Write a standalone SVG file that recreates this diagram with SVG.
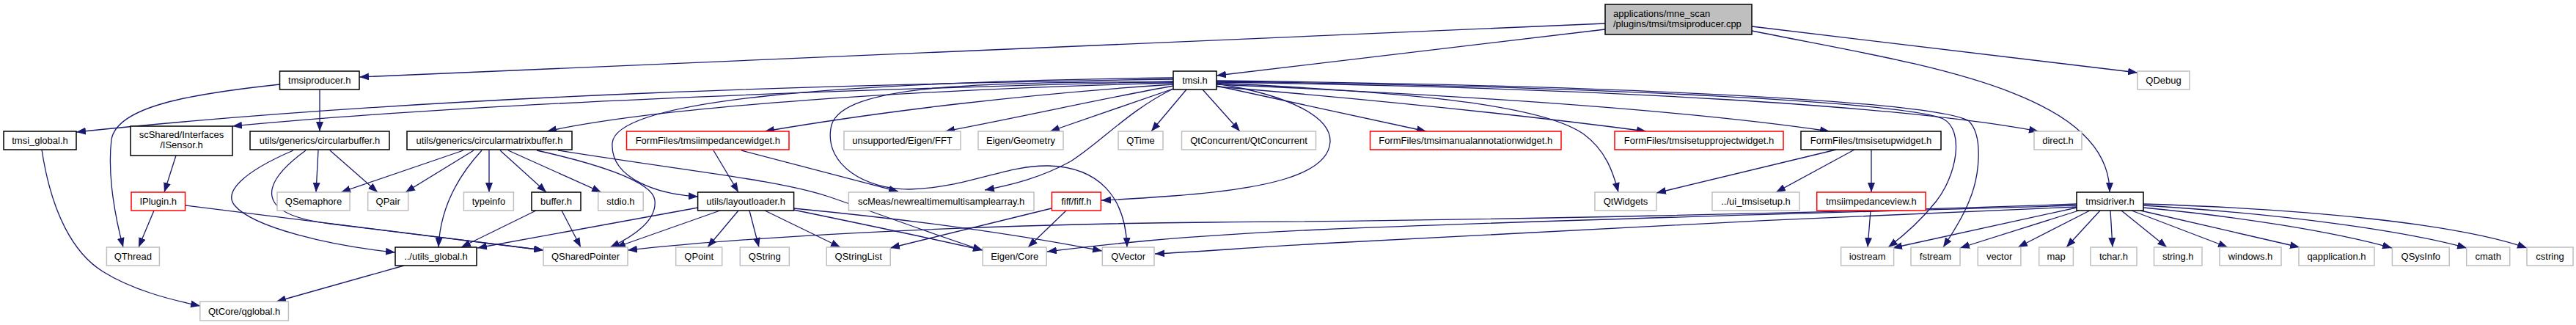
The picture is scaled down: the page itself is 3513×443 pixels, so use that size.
<svg xmlns="http://www.w3.org/2000/svg" width="3513" height="443" viewBox="0 0 3513 443">
<style>
text{font-family:"Liberation Sans",Arial,Helvetica,sans-serif;font-size:13px;fill:#000;text-anchor:middle}
.node rect{fill:#fff;stroke-width:1.5}
.nb rect{stroke:#000}
.ng rect{stroke:#bfbfbf}
.nr rect{stroke:#ff0000}
.root rect{fill:#bfbfbf;stroke:#000}
.root text{text-anchor:start}
#edges path{fill:none;stroke:#191970;stroke-width:1.3;marker-end:url(#arr)}
</style>
<defs>
<marker id="arr" viewBox="0 0 13 10" refX="13" refY="5" markerWidth="13" markerHeight="10" markerUnits="userSpaceOnUse" orient="auto">
<path d="M0,0L13,5L0,10z" fill="#191970"/>
</marker>
</defs>
<rect width="3513" height="443" fill="#fff"/>
<g id="edges">
<path d="M2189,32 L490,105"/>
<path d="M2189,40 L1659,103"/>
<path d="M2389,36 L2915,99"/>
<path d="M2389,42 C2600,85 2877,120 2877,262"/>
<path d="M382,115 C260,128 160,145 152,190 C146,240 158,300 168,337"/>
<path d="M436,122 L436,179"/>
<path d="M1600,108 C1200,114 600,128 104,180"/>
<path d="M1600,111 C1150,122 650,140 317,172"/>
<path d="M1600,113 C1250,122 900,145 746,179"/>
<path d="M1600,106 C1150,112 840,135 835,195 C832,245 900,265 952,268"/>
<path d="M1600,115 C1400,128 1200,152 1043,179"/>
<path d="M1600,121 C1540,150 1500,195 1460,220 C1420,242 1380,252 1343,259"/>
<path d="M1600,112 C1300,110 1140,120 1133,175 C1125,225 1180,258 1240,258 C1320,256 1370,225 1430,226 C1500,228 1535,270 1537,337"/>
<path d="M1600,117 C1500,135 1400,158 1289,179"/>
<path d="M1600,121 L1432,179"/>
<path d="M1618,122 L1570,179"/>
<path d="M1640,122 L1691,179"/>
<path d="M1659,114 C1760,130 1815,160 1814,193 C1812,240 1720,258 1600,267 C1560,270 1530,272 1502,273"/>
<path d="M1659,117 L1945,179"/>
<path d="M1659,118 C1900,138 2100,160 2245,179"/>
<path d="M1659,115 C2000,130 2300,150 2495,179"/>
<path d="M1659,113 C1900,125 2100,140 2160,183 C2190,205 2200,235 2207,262"/>
<path d="M1659,112 C2200,120 2600,145 2780,179"/>
<path d="M1659,111 C2200,118 2600,140 2650,162 C2680,178 2668,240 2640,275 C2620,300 2595,322 2575,337"/>
<path d="M1659,110 C2200,116 2640,138 2685,165 C2705,185 2700,240 2685,275 C2675,300 2660,322 2650,337"/>
<path d="M400,205 C330,235 305,262 320,280 C345,310 450,335 539,344"/>
<path d="M417,205 C355,250 345,292 450,305 L741,341"/>
<path d="M434,205 L431,262"/>
<path d="M450,205 L515,262"/>
<path d="M240,212 L224,262"/>
<path d="M210,287 L189,337"/>
<path d="M253,280 L741,341"/>
<path d="M632,205 L465,262"/>
<path d="M646,205 L553,262"/>
<path d="M657,205 C620,245 600,290 598,337"/>
<path d="M667,205 L667,262"/>
<path d="M682,205 L745,262"/>
<path d="M693,205 L820,262"/>
<path d="M732,205 C800,220 890,245 893,273 C896,300 865,322 832,337"/>
<path d="M761,205 C950,235 1060,245 1130,268 C1200,292 1280,322 1340,341"/>
<path d="M731,287 L629,337"/>
<path d="M766,287 L792,337"/>
<path d="M973,205 L1007,262"/>
<path d="M1011,205 L1225,261"/>
<path d="M952,283 L651,338"/>
<path d="M982,287 L840,337"/>
<path d="M1007,287 L965,337"/>
<path d="M1022,287 L1035,337"/>
<path d="M1043,287 L1146,337"/>
<path d="M1082,286 C1150,300 1270,325 1340,341"/>
<path d="M1082,284 C1250,300 1400,322 1503,342"/>
<path d="M1434,284 L1214,338"/>
<path d="M1454,287 L1402,337"/>
<path d="M551,362 L377,411"/>
<path d="M57,204 C70,290 100,345 140,370 C180,395 230,408 273,417"/>
<path d="M2504,204 L2259,263"/>
<path d="M2529,204 L2422,262"/>
<path d="M2552,204 L2552,262"/>
<path d="M2551,287 L2547,337"/>
<path d="M2832,278 C2500,290 2000,301 1650,303 C1300,306 1000,325 856,341"/>
<path d="M2832,280 C2500,290 2100,300 1800,313 C1600,322 1500,334 1428,343"/>
<path d="M2832,282 C2500,295 2100,315 1800,332 C1700,338 1620,344 1575,346"/>
<path d="M2832,283 L2581,338"/>
<path d="M2835,287 L2673,338"/>
<path d="M2850,287 L2752,337"/>
<path d="M2864,287 L2818,337"/>
<path d="M2878,287 L2881,337"/>
<path d="M2893,287 L2955,337"/>
<path d="M2907,287 L3038,337"/>
<path d="M2919,287 L3136,337"/>
<path d="M2923,283 C3050,295 3180,315 3262,338"/>
<path d="M2923,280 C3120,292 3280,315 3364,338"/>
<path d="M2923,278 C3150,285 3350,305 3446,338"/>
</g>
<g id="n_root" class="node root"><rect x="2189" y="6" width="200" height="41"/><text x="2200" y="22.5">applications/mne_scan</text><text x="2200" y="36.5">/plugins/tmsi/tmsiproducer.cpp</text></g>
<g id="n_tmsiproducer_h" class="node nb"><rect x="381.5" y="97" width="108.5" height="25"/><text x="435.75" y="114">tmsiproducer.h</text></g>
<g id="n_tmsi_h" class="node nb"><rect x="1600" y="97" width="59" height="25"/><text x="1629.5" y="114">tmsi.h</text></g>
<g id="n_qdebug" class="node ng"><rect x="2915" y="97" width="71" height="25"/><text x="2950.5" y="114">QDebug</text></g>
<g id="n_tmsi_global_h" class="node nb"><rect x="5" y="179" width="99" height="25"/><text x="54.5" y="196">tmsi_global.h</text></g>
<g id="n_isensor_h" class="node nb"><rect x="178" y="172" width="139" height="40"/><text x="247.5" y="188">scShared/Interfaces</text><text x="247.5" y="202">/ISensor.h</text></g>
<g id="n_circularbuffer_h" class="node nb"><rect x="341" y="179" width="190" height="25"/><text x="436" y="196">utils/generics/circularbuffer.h</text></g>
<g id="n_circularmatrixbuffer_h" class="node nb"><rect x="555" y="179" width="225" height="25"/><text x="667.5" y="196">utils/generics/circularmatrixbuffer.h</text></g>
<g id="n_tmsiimpedancewidget_h" class="node nr"><rect x="854.5" y="179" width="221.5" height="25"/><text x="965.25" y="196">FormFiles/tmsiimpedancewidget.h</text></g>
<g id="n_fft" class="node ng"><rect x="1151" y="179" width="159" height="25"/><text x="1230.5" y="196">unsupported/Eigen/FFT</text></g>
<g id="n_geometry" class="node ng"><rect x="1334" y="179" width="116" height="25"/><text x="1392" y="196">Eigen/Geometry</text></g>
<g id="n_qtime" class="node ng"><rect x="1525" y="179" width="61" height="25"/><text x="1555.5" y="196">QTime</text></g>
<g id="n_qtconcurrent" class="node ng"><rect x="1611.5" y="179" width="183" height="25"/><text x="1703" y="196">QtConcurrent/QtConcurrent</text></g>
<g id="n_manualannotation_h" class="node nr"><rect x="1868.5" y="179" width="260.5" height="25"/><text x="1998.75" y="196">FormFiles/tmsimanualannotationwidget.h</text></g>
<g id="n_setupproject_h" class="node nr"><rect x="2202" y="179" width="230" height="25"/><text x="2317" y="196">FormFiles/tmsisetupprojectwidget.h</text></g>
<g id="n_setupwidget_h" class="node nb"><rect x="2456" y="179" width="191" height="25"/><text x="2551.5" y="196">FormFiles/tmsisetupwidget.h</text></g>
<g id="n_direct_h" class="node ng"><rect x="2774" y="179" width="65" height="25"/><text x="2806.5" y="196">direct.h</text></g>
<g id="n_iplugin_h" class="node nr"><rect x="179" y="262" width="73.5" height="25"/><text x="215.75" y="279">IPlugin.h</text></g>
<g id="n_qsemaphore" class="node ng"><rect x="378" y="262" width="99" height="25"/><text x="427.5" y="279">QSemaphore</text></g>
<g id="n_qpair" class="node ng"><rect x="501.7" y="262" width="55" height="25"/><text x="529.2" y="279">QPair</text></g>
<g id="n_typeinfo" class="node ng"><rect x="632.4" y="262" width="68" height="25"/><text x="666.4" y="279">typeinfo</text></g>
<g id="n_buffer_h" class="node nb"><rect x="725" y="262" width="67" height="25"/><text x="758.5" y="279">buffer.h</text></g>
<g id="n_stdio_h" class="node ng"><rect x="815.7" y="262" width="61.5" height="25"/><text x="846.45" y="279">stdio.h</text></g>
<g id="n_layoutloader_h" class="node nb"><rect x="951.6" y="262" width="131" height="25"/><text x="1017.1" y="279">utils/layoutloader.h</text></g>
<g id="n_scmeas" class="node ng"><rect x="1157.4" y="262" width="252.6" height="25"/><text x="1283.7" y="279">scMeas/newrealtimemultisamplearray.h</text></g>
<g id="n_fiff_h" class="node nr"><rect x="1434.4" y="262" width="67" height="25"/><text x="1467.9" y="279">fiff/fiff.h</text></g>
<g id="n_qtwidgets" class="node ng"><rect x="2175" y="262" width="84" height="25"/><text x="2217" y="279">QtWidgets</text></g>
<g id="n_ui_tmsisetup_h" class="node ng"><rect x="2335" y="262" width="119" height="25"/><text x="2394.5" y="279">../ui_tmsisetup.h</text></g>
<g id="n_tmsiimpedanceview_h" class="node nr"><rect x="2477.7" y="262" width="148.4" height="25"/><text x="2551.9" y="279">tmsiimpedanceview.h</text></g>
<g id="n_tmsidriver_h" class="node nb"><rect x="2832" y="262" width="91" height="25"/><text x="2877.5" y="279">tmsidriver.h</text></g>
<g id="n_qthread" class="node ng"><rect x="145.4" y="337" width="72" height="25"/><text x="181.4" y="354">QThread</text></g>
<g id="n_utils_global_h" class="node nb"><rect x="539" y="337" width="111" height="25"/><text x="594.5" y="354">../utils_global.h</text></g>
<g id="n_qsharedpointer" class="node ng"><rect x="741" y="337" width="115" height="25"/><text x="798.5" y="354">QSharedPointer</text></g>
<g id="n_qpoint" class="node ng"><rect x="921.7" y="337" width="63" height="25"/><text x="953.2" y="354">QPoint</text></g>
<g id="n_qstring" class="node ng"><rect x="1009.3" y="337" width="67" height="25"/><text x="1042.8" y="354">QString</text></g>
<g id="n_qstringlist" class="node ng"><rect x="1127.2" y="337" width="87" height="25"/><text x="1170.7" y="354">QStringList</text></g>
<g id="n_eigen_core" class="node ng"><rect x="1340.2" y="337" width="87" height="25"/><text x="1383.7" y="354">Eigen/Core</text></g>
<g id="n_qvector" class="node ng"><rect x="1503.3" y="337" width="70.7" height="25"/><text x="1538.65" y="354">QVector</text></g>
<g id="n_iostream" class="node ng"><rect x="2510.6" y="337" width="72" height="25"/><text x="2546.6" y="354">iostream</text></g>
<g id="n_fstream" class="node ng"><rect x="2606" y="337" width="67" height="25"/><text x="2639.5" y="354">fstream</text></g>
<g id="n_vector" class="node ng"><rect x="2697.3" y="337" width="58.6" height="25"/><text x="2726.6" y="354">vector</text></g>
<g id="n_map" class="node ng"><rect x="2780.7" y="337" width="46.7" height="25"/><text x="2804.05" y="354">map</text></g>
<g id="n_tchar_h" class="node ng"><rect x="2851" y="337" width="63" height="25"/><text x="2882.5" y="354">tchar.h</text></g>
<g id="n_string_h" class="node ng"><rect x="2937.5" y="337" width="65.5" height="25"/><text x="2970.25" y="354">string.h</text></g>
<g id="n_windows_h" class="node ng"><rect x="3027" y="337" width="84" height="25"/><text x="3069" y="354">windows.h</text></g>
<g id="n_qapplication_h" class="node ng"><rect x="3135" y="337" width="103" height="25"/><text x="3186.5" y="354">qapplication.h</text></g>
<g id="n_qsysinfo" class="node ng"><rect x="3262.4" y="337" width="77.8" height="25"/><text x="3301.3" y="354">QSysInfo</text></g>
<g id="n_cmath" class="node ng"><rect x="3363.7" y="337" width="59" height="25"/><text x="3393.2" y="354">cmath</text></g>
<g id="n_cstring" class="node ng"><rect x="3446" y="337" width="63" height="25"/><text x="3477.5" y="354">cstring</text></g>
<g id="n_qglobal_h" class="node ng"><rect x="272.8" y="411" width="120.6" height="26"/><text x="333.1" y="428.5">QtCore/qglobal.h</text></g>
</svg>
